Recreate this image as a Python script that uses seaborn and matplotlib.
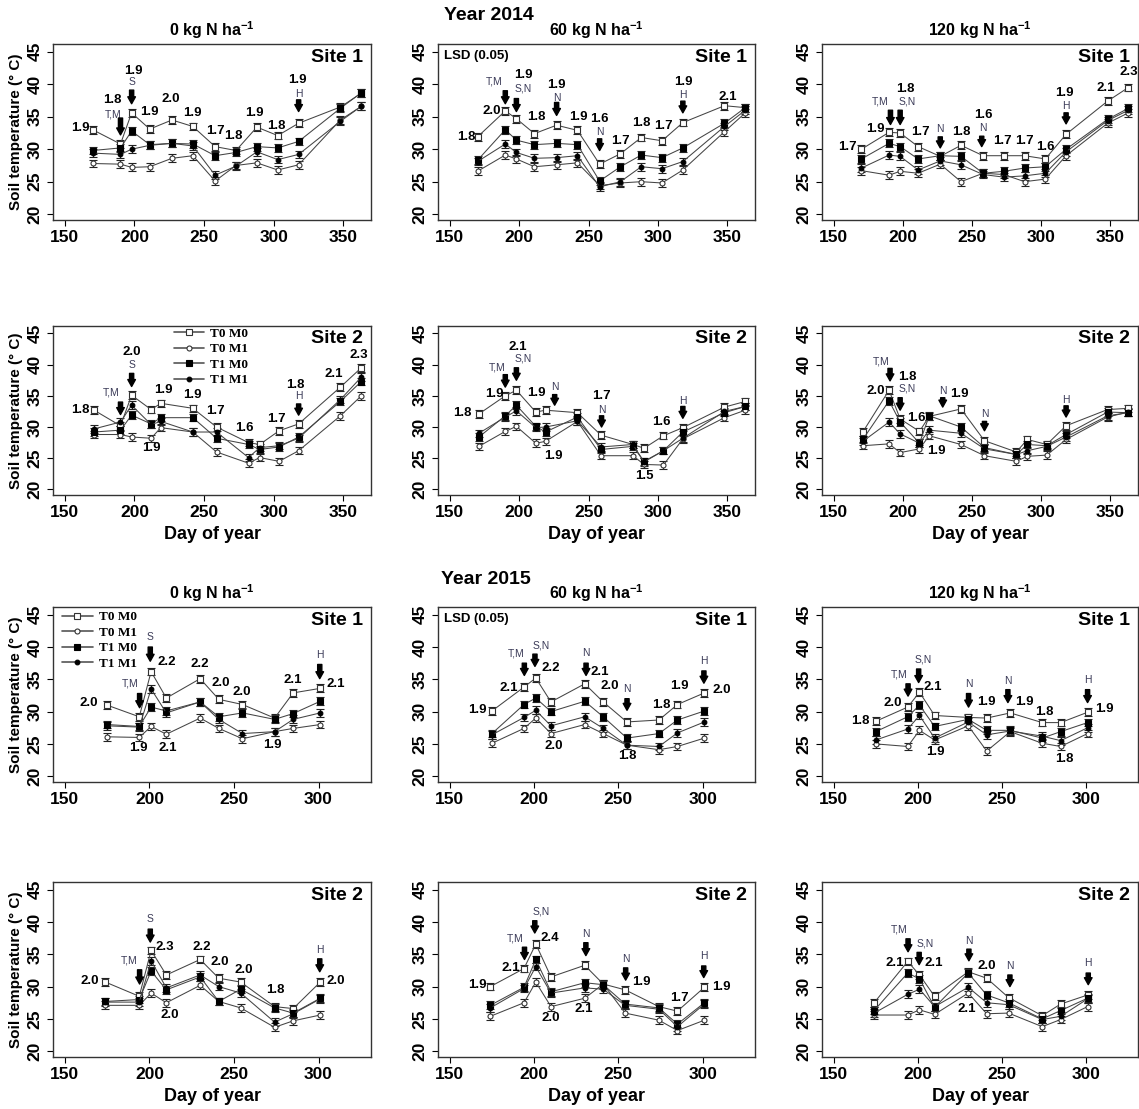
import matplotlib
matplotlib.use('Agg')
import matplotlib.pyplot as plt
from matplotlib.lines import Line2D
import pandas as pd
import seaborn as sns

sns.set_style('ticks')
plt.rcParams['font.family'] = ['Liberation Sans', 'DejaVu Sans']
plt.rcParams['mathtext.fontset'] = 'custom'
plt.rcParams['mathtext.rm'] = 'Liberation Sans'
plt.rcParams['mathtext.bf'] = 'Liberation Sans:bold'
plt.rcParams['text.color'] = 'black'
plt.rcParams['axes.labelcolor'] = 'black'
plt.rcParams['xtick.color'] = 'black'
plt.rcParams['ytick.color'] = 'black'

# ---------------- data ----------------
treatments = ['T0 M0', 'T0 M1', 'T1 M0', 'T1 M1']
n_rates = ['0', '60', '120']

days_2014_site1 = [170, 190, 198, 211, 227, 242, 258, 273, 288, 303, 318, 348, 363]
days_2014_site2 = [171, 190, 198, 212, 219, 242, 259, 282, 290, 304, 318, 348, 363]
days_2015_site1 = [175, 194, 201, 210, 230, 241, 255, 274, 285, 301]
days_2015_site2 = [174, 194, 201, 210, 230, 241, 254, 274, 285, 301]

# 2014 Site 1
y14_s1_n0_t0m0 = [33.0, 30.8, 35.6, 33.1, 34.5, 33.5, 30.4, 29.8, 33.4, 32.1, 34.0, 36.5, 38.6]
y14_s1_n0_t0m1 = [27.8, 27.7, 27.2, 27.3, 28.6, 29.0, 25.1, 27.5, 27.9, 26.8, 27.6, 34.5, 36.6]
y14_s1_n0_t1m0 = [29.8, 30.2, 32.8, 30.7, 30.9, 30.8, 29.0, 29.5, 30.4, 30.2, 31.2, 36.3, 38.7]
y14_s1_n0_t1m1 = [29.4, 29.2, 30.0, 30.6, 30.9, 30.5, 26.0, 27.4, 29.6, 28.4, 29.2, 34.3, 36.6]

y14_s1_n60_t0m0 = [31.9, 35.9, 34.7, 32.4, 33.7, 32.9, 27.7, 29.3, 31.8, 31.3, 34.1, 36.7, 36.4]
y14_s1_n60_t0m1 = [26.6, 29.1, 28.5, 27.3, 27.6, 27.9, 24.4, 24.8, 25.0, 24.8, 26.8, 32.7, 35.6]
y14_s1_n60_t1m0 = [28.3, 33.0, 31.4, 30.7, 30.9, 30.7, 25.1, 27.3, 29.1, 28.7, 30.2, 34.0, 36.4]
y14_s1_n60_t1m1 = [28.1, 30.8, 29.5, 28.6, 28.7, 29.0, 24.2, 25.0, 27.3, 27.0, 28.1, 33.5, 36.0]

y14_s1_n120_t0m0 = [30.0, 32.6, 32.5, 30.4, 28.9, 30.6, 29.0, 29.0, 29.0, 28.5, 32.3, 37.4, 39.5]
y14_s1_n120_t0m1 = [26.7, 26.0, 26.6, 26.3, 27.7, 25.0, 26.3, 26.1, 25.0, 25.4, 29.0, 34.0, 35.6]
y14_s1_n120_t1m0 = [28.5, 30.9, 30.4, 28.5, 29.0, 28.9, 26.3, 26.6, 27.1, 27.3, 30.0, 34.6, 36.3]
y14_s1_n120_t1m1 = [27.1, 29.1, 28.9, 26.8, 28.2, 27.6, 26.1, 25.7, 25.9, 26.3, 29.6, 34.4, 36.0]

# 2014 Site 2
y14_s2_n0_t0m0 = [32.7, 30.2, 35.1, 32.8, 33.8, 33.0, 30.0, 27.5, 27.2, 29.4, 30.5, 36.4, 39.5]
y14_s2_n0_t0m1 = [28.8, 28.8, 28.4, 28.2, 29.9, 29.2, 26.0, 24.2, 25.1, 24.5, 26.2, 31.8, 35.0]
y14_s2_n0_t1m0 = [29.2, 29.5, 31.9, 30.5, 31.5, 31.5, 28.2, 27.2, 26.4, 26.8, 28.4, 34.1, 37.3]
y14_s2_n0_t1m1 = [29.7, 30.8, 33.5, 30.4, 30.9, 29.2, 29.2, 25.1, 26.7, 27.0, 28.2, 34.4, 38.0]

y14_s2_n60_t0m0 = [32.1, 35.0, 35.9, 32.4, 32.7, 32.3, 28.7, 27.2, 26.6, 28.6, 29.9, 33.2, 34.1]
y14_s2_n60_t0m1 = [26.9, 29.3, 30.1, 27.4, 27.7, 30.9, 25.4, 25.4, 24.0, 23.9, 28.1, 31.5, 32.7]
y14_s2_n60_t1m0 = [28.4, 31.8, 33.5, 30.1, 29.2, 31.6, 26.4, 26.9, 24.5, 26.2, 29.2, 32.3, 33.3]
y14_s2_n60_t1m1 = [29.0, 31.6, 32.6, 29.9, 30.0, 31.0, 26.8, 27.2, 24.4, 26.2, 28.2, 32.5, 33.3]

y14_s2_n120_t0m0 = [29.2, 35.9, 31.3, 29.3, 31.7, 32.9, 27.8, 26.0, 28.0, 27.2, 30.2, 32.8, 33.0]
y14_s2_n120_t0m1 = [27.0, 27.3, 25.9, 26.5, 28.6, 27.2, 25.4, 24.5, 25.3, 25.5, 28.0, 31.6, 32.4]
y14_s2_n120_t1m0 = [28.0, 34.2, 30.8, 27.4, 31.8, 30.0, 26.7, 25.6, 27.2, 27.0, 28.8, 32.4, 32.3]
y14_s2_n120_t1m1 = [27.7, 30.8, 28.9, 27.4, 29.5, 29.0, 26.5, 25.6, 26.2, 26.9, 28.4, 31.8, 32.3]

# 2015 Site 1
y15_s1_n0_t0m0 = [31.0, 29.2, 36.2, 32.1, 35.1, 31.9, 31.1, 29.0, 32.9, 33.6]
y15_s1_n0_t0m1 = [26.1, 26.0, 27.7, 26.5, 29.0, 27.4, 25.8, 26.9, 27.4, 28.0]
y15_s1_n0_t1m0 = [28.0, 27.7, 30.7, 30.1, 31.5, 29.2, 29.8, 28.8, 29.7, 31.6]
y15_s1_n0_t1m1 = [27.8, 27.6, 33.5, 29.8, 31.5, 28.8, 26.6, 26.9, 28.8, 29.8]

y15_s1_n60_t0m0 = [30.1, 33.8, 35.2, 31.5, 34.3, 31.5, 28.4, 28.7, 31.1, 32.9]
y15_s1_n60_t0m1 = [25.1, 27.4, 29.0, 26.6, 28.0, 26.6, 24.8, 24.1, 24.6, 25.9]
y15_s1_n60_t1m0 = [26.6, 31.1, 32.1, 30.0, 31.6, 29.2, 25.9, 26.6, 28.7, 30.1]
y15_s1_n60_t1m1 = [26.4, 29.1, 30.2, 27.8, 29.2, 27.4, 24.8, 24.6, 26.7, 28.4]

y15_s1_n120_t0m0 = [28.5, 30.7, 33.0, 29.4, 29.1, 29.0, 29.8, 28.3, 28.3, 29.9]
y15_s1_n120_t0m1 = [25.0, 24.6, 27.1, 25.6, 27.8, 23.9, 26.9, 25.1, 24.6, 26.6]
y15_s1_n120_t1m0 = [26.9, 29.2, 31.0, 27.7, 28.8, 27.1, 27.1, 25.9, 26.9, 28.3]
y15_s1_n120_t1m1 = [25.6, 27.3, 29.4, 25.9, 28.4, 26.4, 27.0, 26.2, 25.5, 27.5]

# 2015 Site 2
y15_s2_n0_t0m0 = [30.7, 28.5, 35.6, 31.8, 34.2, 31.3, 30.7, 26.9, 26.6, 30.7]
y15_s2_n0_t0m1 = [27.1, 27.1, 29.0, 27.5, 30.2, 27.7, 26.7, 23.7, 24.7, 25.6]
y15_s2_n0_t1m0 = [27.7, 28.0, 32.4, 29.5, 31.5, 27.7, 29.6, 26.7, 25.9, 28.2]
y15_s2_n0_t1m1 = [27.6, 27.6, 34.0, 29.8, 31.8, 30.0, 29.0, 24.5, 25.8, 28.1]

y15_s2_n60_t0m0 = [30.0, 32.8, 36.6, 31.5, 33.3, 30.4, 29.5, 26.9, 26.2, 29.9]
y15_s2_n60_t0m1 = [25.4, 27.5, 30.7, 26.9, 28.2, 30.4, 25.9, 24.8, 23.2, 24.8]
y15_s2_n60_t1m0 = [27.1, 29.9, 34.2, 29.2, 30.6, 30.3, 27.3, 26.7, 24.2, 27.5]
y15_s2_n60_t1m1 = [26.7, 29.7, 33.1, 29.0, 29.8, 29.6, 27.1, 26.5, 23.8, 27.3]

y15_s2_n120_t0m0 = [27.5, 33.9, 31.8, 28.5, 32.3, 31.3, 28.3, 25.5, 27.3, 28.7]
y15_s2_n120_t0m1 = [25.6, 25.6, 26.4, 25.7, 29.0, 25.8, 25.9, 23.8, 24.9, 26.9]
y15_s2_n120_t1m0 = [26.3, 32.1, 31.2, 26.8, 32.1, 28.7, 27.5, 25.0, 26.3, 28.2]
y15_s2_n120_t1m1 = [25.9, 28.8, 29.6, 26.9, 29.9, 27.5, 27.2, 24.9, 25.4, 28.1]

standard_error = 0.6

# LSD (0.05) labels: (day, temperature, text)
lsd_14_s1_n0 = [(161, 33.3, '1.9'), (184.4, 37.6, '1.8'), (199, 42.1, '1.9'), (211, 35.8, '1.9'),
                (226, 37.7, '2.0'), (241.5, 35.6, '1.9'), (258, 32.8, '1.7'), (271, 32.0, '1.8'),
                (286, 35.6, '1.9'), (302, 33.5, '1.8'), (317, 40.6, '1.9')]
lsd_14_s1_n60 = [(161.7, 31.9, '1.8'), (180, 35.9, '2.0'), (203, 41.4, '1.9'), (212.7, 34.9, '1.8'),
                 (227, 39.9, '1.9'), (243, 35.0, '1.9'), (257.6, 34.6, '1.6'), (272.7, 31.3, '1.7'),
                 (288, 34.0, '1.8'), (303.8, 33.6, '1.7'), (318.4, 40.4, '1.9'), (350, 38.1, '2.1')]
lsd_14_s1_n120 = [(160, 30.3, '1.7'), (180, 33.1, '1.9'), (201.4, 39.2, '1.8'), (213, 32.6, '1.7'),
                  (242, 32.6, '1.8'), (258, 35.3, '1.6'), (272, 31.2, '1.7'), (288, 31.2, '1.7'),
                  (302.7, 30.4, '1.6'), (316.8, 38.7, '1.9'), (346.4, 39.4, '2.1'), (363.3, 41.9, '2.3')]
lsd_14_s2_n0 = [(160.8, 32.7, '1.8'), (198.4, 42.1, '2.0'), (212.4, 26.7, '1.9'), (221, 36.0, '1.9'),
                (241.8, 35.2, '1.9'), (258, 32.6, '1.7'), (278.8, 29.9, '1.6'), (302.3, 31.3, '1.7'),
                (315.5, 36.8, '1.8'), (343, 38.5, '2.1'), (361, 41.6, '2.3')]
lsd_14_s2_n60 = [(159.2, 32.3, '1.8'), (181.8, 35.3, '1.9'), (199.3, 42.8, '2.1'), (212.7, 35.4, '1.9'),
                 (224.8, 25.3, '1.9'), (259.4, 34.9, '1.7'), (302.6, 30.8, '1.6'), (290.5, 22.1, '1.5')]
lsd_14_s2_n120 = [(180.3, 35.7, '2.0'), (203.3, 38.1, '1.8'), (210, 31.5, '1.6'), (224, 26.1, '1.9'),
                  (241, 35.3, '1.9')]
lsd_15_s1_n0 = [(164.3, 31.3, '2.0'), (193.2, 24.3, '1.9'), (210, 37.7, '2.2'), (211, 24.4, '2.1'),
                (229.6, 37.3, '2.2'), (242.3, 34.5, '2.0'), (254.7, 33.0, '2.0'), (272.4, 24.8, '1.9'),
                (285, 34.9, '2.1'), (310, 34.2, '2.1')]
lsd_15_s1_n60 = [(166.4, 30.3, '1.9'), (185.2, 33.7, '2.1'), (210, 36.8, '2.2'), (211.6, 24.6, '2.0'),
                 (238.7, 36.2, '2.1'), (244.7, 33.9, '2.0'), (255.1, 23.2, '1.8'), (275.3, 31.0, '1.8'),
                 (286.2, 33.9, '1.9'), (311, 33.3, '2.0')]
lsd_15_s1_n120 = [(166, 28.5, '1.8'), (184.9, 31.3, '2.0'), (208.6, 33.8, '2.1'), (210.6, 23.7, '1.9'),
                  (240.7, 31.5, '1.9'), (263.5, 31.5, '1.9'), (275.3, 30.0, '1.8'), (287.2, 22.6, '1.8'),
                  (311, 30.4, '1.9')]
lsd_15_s2_n0 = [(165, 30.8, '2.0'), (209, 36.1, '2.3'), (211.9, 25.6, '2.0'), (231.1, 36.2, '2.2'),
                (241.7, 33.8, '2.0'), (255.5, 32.6, '2.0'), (274.4, 29.5, '1.8'), (310, 30.8, '2.0')]
lsd_15_s2_n60 = [(166.3, 30.2, '1.9'), (186, 32.9, '2.1'), (209.6, 37.5, '2.4'), (210, 25.2, '2.0'),
                 (229.3, 26.5, '2.1'), (263.8, 30.7, '1.9'), (286, 28.3, '1.7'), (311, 30.0, '1.9')]
lsd_15_s2_n120 = [(186.3, 33.6, '2.1'), (209.5, 33.6, '2.1'), (241.3, 33.2, '2.0'), (229, 26.5, '2.1')]

# management arrows: (day, top, bottom, label, label day, label temperature)
arr_14_s1_n0 = [(190, 34.8, 32.2, 'T,M', 185, 35.4), (198, 39.1, 37.0, 'S', 198, 40.4),
                (318, 37.6, 35.8, 'H', 318, 38.5)]
arr_14_s1_n60 = [(190, 39.0, 37.0, 'T,M', 182, 40.4), (198, 37.8, 35.8, 'S,N', 203, 39.4),
                 (227, 37.2, 35.2, 'N', 227, 37.9), (258, 31.6, 29.8, 'N', 258, 32.6),
                 (318, 37.4, 35.6, 'H', 318, 38.3)]
arr_14_s1_n120 = [(191, 36.0, 33.8, 'T,M', 183.5, 37.3), (198, 36.0, 33.8, 'S,N', 203, 37.3),
                  (227, 31.9, 30.2, 'N', 227, 33.1), (257, 32.0, 30.4, 'N', 258, 33.3),
                  (318, 35.6, 33.9, 'H', 318, 36.6)]
arr_14_s2_n0 = [(190, 34.0, 32.0, 'T,M', 183.6, 35.6), (198, 38.6, 36.5, 'S', 198, 39.9),
                (318, 33.7, 31.9, 'H', 318, 34.9)]
arr_14_s2_n60 = [(190, 38.4, 36.4, 'T,M', 184.3, 39.6), (198, 39.5, 37.5, 'S,N', 203, 41.0),
                 (225.6, 35.2, 33.5, 'N', 225.6, 36.4), (259.4, 31.8, 30.0, 'N', 259.4, 32.8),
                 (318, 33.3, 31.4, 'H', 318, 34.1)]
arr_14_s2_n120 = [(190.7, 39.4, 37.4, 'T,M', 184, 40.5), (198, 34.7, 32.7, 'S,N', 203, 36.1),
                  (228.8, 34.7, 33.2, 'N', 228.8, 35.8), (259, 30.9, 29.4, 'N', 259, 32.1),
                  (318, 33.4, 31.6, 'H', 318, 34.4)]
arr_15_s1_n0 = [(194.2, 32.8, 30.6, 'T,M', 188.7, 34.3), (200.5, 40.0, 37.8, 'S', 200.5, 41.5),
                (300.7, 37.3, 35.1, 'H', 300.7, 38.8)]
arr_15_s1_n60 = [(194.2, 37.5, 35.6, 'T,M', 189.2, 39.0), (200.5, 38.9, 37.0, 'S,N', 204.5, 40.2),
                 (230.8, 37.5, 35.6, 'N', 230.8, 39.0), (255.1, 32.0, 30.2, 'N', 255.1, 33.5),
                 (300.7, 36.3, 34.4, 'H', 300.7, 37.8)]
arr_15_s1_n120 = [(194.2, 34.3, 32.4, 'T,M', 188.8, 35.8), (200.5, 36.6, 34.5, 'S,N', 203, 38.0),
                  (230.2, 32.8, 30.7, 'N', 230.2, 34.3), (253.6, 33.4, 31.4, 'N', 253.6, 34.8),
                  (301, 33.4, 31.4, 'H', 301, 34.9)]
arr_15_s2_n0 = [(194.2, 32.6, 30.4, 'T,M', 188.3, 34.1), (200.5, 38.9, 36.9, 'S', 200.5, 40.4),
                (300.7, 34.3, 32.3, 'H', 300.7, 35.6)]
arr_15_s2_n60 = [(194.3, 36.1, 34.2, 'T,M', 189, 37.5), (200.4, 40.2, 38.3, 'S,N', 204.1, 41.6),
                 (230.7, 36.8, 34.8, 'N', 230.7, 38.1), (254.3, 32.9, 31.0, 'N', 254.3, 34.2),
                 (300.6, 33.2, 31.4, 'H', 300.6, 34.8)]
arr_15_s2_n120 = [(194.2, 37.4, 35.4, 'T,M', 188.9, 38.8), (200.8, 35.3, 33.4, 'S,N', 204.2, 36.7),
                  (230.4, 35.8, 34.0, 'N', 230.4, 37.0), (254.8, 31.8, 30.0, 'N', 254.8, 33.2),
                  (301.4, 32.1, 30.3, 'H', 301.4, 33.7)]

# ---------------- panels ----------------
panels = [
    (0, 0, 2014, 1, days_2014_site1, [y14_s1_n0_t0m0, y14_s1_n0_t0m1, y14_s1_n0_t1m0, y14_s1_n0_t1m1], lsd_14_s1_n0, arr_14_s1_n0),
    (0, 1, 2014, 1, days_2014_site1, [y14_s1_n60_t0m0, y14_s1_n60_t0m1, y14_s1_n60_t1m0, y14_s1_n60_t1m1], lsd_14_s1_n60, arr_14_s1_n60),
    (0, 2, 2014, 1, days_2014_site1, [y14_s1_n120_t0m0, y14_s1_n120_t0m1, y14_s1_n120_t1m0, y14_s1_n120_t1m1], lsd_14_s1_n120, arr_14_s1_n120),
    (1, 0, 2014, 2, days_2014_site2, [y14_s2_n0_t0m0, y14_s2_n0_t0m1, y14_s2_n0_t1m0, y14_s2_n0_t1m1], lsd_14_s2_n0, arr_14_s2_n0),
    (1, 1, 2014, 2, days_2014_site2, [y14_s2_n60_t0m0, y14_s2_n60_t0m1, y14_s2_n60_t1m0, y14_s2_n60_t1m1], lsd_14_s2_n60, arr_14_s2_n60),
    (1, 2, 2014, 2, days_2014_site2, [y14_s2_n120_t0m0, y14_s2_n120_t0m1, y14_s2_n120_t1m0, y14_s2_n120_t1m1], lsd_14_s2_n120, arr_14_s2_n120),
    (2, 0, 2015, 1, days_2015_site1, [y15_s1_n0_t0m0, y15_s1_n0_t0m1, y15_s1_n0_t1m0, y15_s1_n0_t1m1], lsd_15_s1_n0, arr_15_s1_n0),
    (2, 1, 2015, 1, days_2015_site1, [y15_s1_n60_t0m0, y15_s1_n60_t0m1, y15_s1_n60_t1m0, y15_s1_n60_t1m1], lsd_15_s1_n60, arr_15_s1_n60),
    (2, 2, 2015, 1, days_2015_site1, [y15_s1_n120_t0m0, y15_s1_n120_t0m1, y15_s1_n120_t1m0, y15_s1_n120_t1m1], lsd_15_s1_n120, arr_15_s1_n120),
    (3, 0, 2015, 2, days_2015_site2, [y15_s2_n0_t0m0, y15_s2_n0_t0m1, y15_s2_n0_t1m0, y15_s2_n0_t1m1], lsd_15_s2_n0, arr_15_s2_n0),
    (3, 1, 2015, 2, days_2015_site2, [y15_s2_n60_t0m0, y15_s2_n60_t0m1, y15_s2_n60_t1m0, y15_s2_n60_t1m1], lsd_15_s2_n60, arr_15_s2_n60),
    (3, 2, 2015, 2, days_2015_site2, [y15_s2_n120_t0m0, y15_s2_n120_t0m1, y15_s2_n120_t1m0, y15_s2_n120_t1m1], lsd_15_s2_n120, arr_15_s2_n120),
]

# ---------------- styling ----------------
W, H = 1139, 1109
col_px = [(53, 371), (438, 755), (822, 1138)]
row_px = [(44, 220), (326, 495), (607, 782), (882, 1057)]

line_col = '#444444'
styles = {
    'T0 M0': dict(marker='s', markersize=4.6, markerfacecolor='white', markeredgecolor='#333333'),
    'T0 M1': dict(marker='o', markersize=3.6, markerfacecolor='white', markeredgecolor='#333333'),
    'T1 M0': dict(marker='s', markersize=4.4, markerfacecolor='black', markeredgecolor='black'),
    'T1 M1': dict(marker='o', markersize=3.4, markerfacecolor='black', markeredgecolor='black'),
}
label_col = '#3b3b58'

fig = plt.figure(figsize=(W / 100, H / 100), dpi=100)

for row, col, year, site, days, series, lsd, arrows in panels:
    x0, x1 = col_px[col]
    y0, y1 = row_px[row]
    ax = fig.add_axes([x0 / W, 1 - y1 / H, (x1 - x0) / W, (y1 - y0) / H])
    for name, vals in zip(treatments, series):
        ax.errorbar(days, vals, yerr=standard_error, fmt='none', ecolor='#222222',
                    elinewidth=0.8, capsize=3, capthick=0.8, zorder=2)
        df = pd.DataFrame({'day': days, 'temp': vals})
        sns.lineplot(data=df, x='day', y='temp', ax=ax, color=line_col, lw=0.75,
                     markeredgewidth=0.8, zorder=3, legend=False, **styles[name])
    for dx, ty, txt in lsd:
        ax.text(dx, ty, txt, ha='center', va='center', fontsize=9.5, fontweight='bold', zorder=5)
    for ax_day, top, bot, lab, lx, ly in arrows:
        ax.annotate('', xy=(ax_day, bot), xytext=(ax_day, top),
                    arrowprops=dict(arrowstyle='simple,head_length=0.5,head_width=0.55,tail_width=0.3',
                                    fc='black', ec='black', shrinkA=0, shrinkB=0), zorder=6)
        ax.text(lx, ly, lab, ha='center', va='center', fontsize=7.5, color=label_col, zorder=5)

    if year == 2014:
        ax.set_xlim(141.5, 370)
        ax.set_xticks([150, 200, 250, 300, 350])
    else:
        ax.set_xlim(143, 331)
        ax.set_xticks([150, 200, 250, 300])
    ax.set_ylim(19.1, 46.2)
    ax.set_yticks([20, 25, 30, 35, 40, 45])
    ax.tick_params(axis='both', direction='out', length=4, width=0.8, labelsize=12.5)
    for lab in ax.get_xticklabels() + ax.get_yticklabels():
        lab.set_fontweight('bold')
    for lab in ax.get_yticklabels():
        lab.set_rotation(90)
        lab.set_va('center')
    for sp in ax.spines.values():
        sp.set_color('#333333')
        sp.set_linewidth(1.0)

    ax.set_xlabel('Day of year' if site == 2 else '', fontsize=13, fontweight='bold', labelpad=4)
    if col == 0:
        ax.set_ylabel('Soil temperature (° C)', fontsize=11, fontweight='bold', labelpad=3)
    else:
        ax.set_ylabel('')
    if site == 1:
        ax.set_title(n_rates[col] + r' kg N ha$^{\mathbf{-1}}$', fontsize=11.5, fontweight='bold', pad=6)
    ax.text(0.975, 0.925, f'Site {site}', transform=ax.transAxes, ha='right', va='center',
            fontsize=14, fontweight='bold')
    if col == 1 and site == 1:
        ax.text(0.02, 0.93, 'LSD (0.05)', transform=ax.transAxes, ha='left', va='center',
                fontsize=9.5, fontweight='bold')

    if col == 0 and ((year == 2014 and site == 2) or (year == 2015 and site == 1)):
        handles = [Line2D([0], [0], color='#555555', lw=1.2, markeredgewidth=0.8, **styles[t])
                   for t in treatments]
        anchor = (0.35, 1.045) if year == 2014 else (0.0, 1.03)
        ax.legend(handles, treatments, loc='upper left', bbox_to_anchor=anchor, frameon=False,
                  prop=dict(family=['Liberation Serif'], weight='bold', size=9.5),
                  handlelength=2.3, handletextpad=0.5, labelspacing=0.25, borderpad=0.2)

fig.text(489 / W, 1 - 15 / H, 'Year 2014', ha='center', va='center', fontsize=14, fontweight='bold')
fig.text(486 / W, 1 - 580 / H, 'Year 2015', ha='center', va='center', fontsize=14, fontweight='bold')

fig.savefig('out.png', dpi=100)
